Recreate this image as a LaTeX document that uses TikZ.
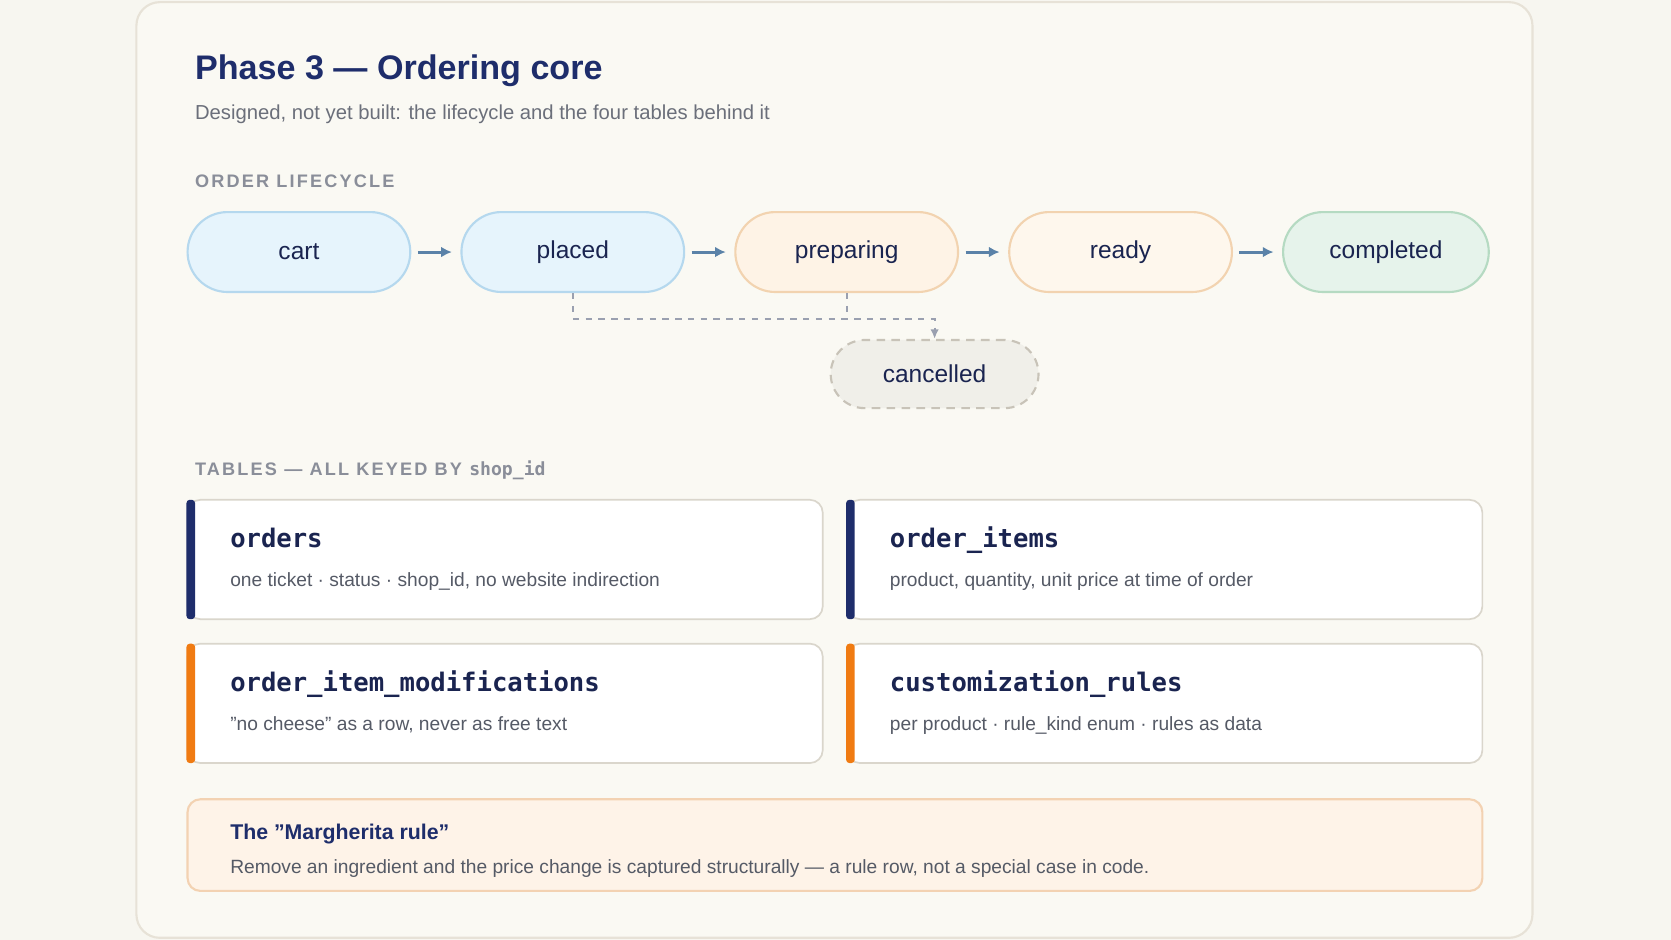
\documentclass[tikz,border=0pt]{standalone}
\usepackage{fontspec}
\setmainfont{Liberation Sans}
\setsansfont{Liberation Sans}
\setmonofont{DejaVu Sans Mono}
\usetikzlibrary{positioning,arrows.meta}

\definecolor{paper}{HTML}{F7F6F0}
\definecolor{card}{HTML}{FAF9F3}
\definecolor{cardline}{HTML}{E7E2D7}
\definecolor{navy}{HTML}{1E2D6B}
\definecolor{ink}{HTML}{1A2450}
\definecolor{muted}{HTML}{6B6F7A}
\definecolor{label}{HTML}{8A8E99}
\definecolor{bluefill}{HTML}{E6F4FC}
\definecolor{blueline}{HTML}{B5D8EE}
\definecolor{orfill}{HTML}{FEF3E6}
\definecolor{orline}{HTML}{F2D3B0}
\definecolor{grfill}{HTML}{E6F3EB}
\definecolor{grline}{HTML}{B5DAC2}
\definecolor{grayfill}{HTML}{F0EFE9}
\definecolor{grayline}{HTML}{C8C3B8}
\definecolor{arrowc}{HTML}{5A82A8}
\definecolor{dashc}{HTML}{9AA0B0}
\definecolor{tabline}{HTML}{DAD6CC}
\definecolor{orange}{HTML}{F07B12}
\definecolor{desc}{HTML}{555A66}
\definecolor{notefill}{HTML}{FEF3E8}
\definecolor{noteline}{HTML}{F3D2B2}

\begin{document}
\begin{tikzpicture}
    [
    x=0.5pt, y=-0.5pt,
    state/.style={draw, line width=1pt, rounded corners=18.75pt, minimum height=37.5pt,
      minimum width=104.5pt, text=ink, font=\fontsize{11.5pt}{13pt}\selectfont},
    coolstate/.style={fill=bluefill, draw=blueline},
    warmstate/.style={fill=orfill, draw=orline},
    flow/.style={-{Latex[length=5pt,width=5pt]}, line width=1.4pt, draw=arrowc,
      shorten <=3pt, shorten >=4pt},
    heading/.style={anchor=base west, text=label, font=\fontsize{8.5pt}{10pt}\selectfont\bfseries},
    tablebox/.style={draw=tabline, fill=white, line width=0.8pt, rounded corners=6pt},
    tname/.style={anchor=base west, text=ink, font=\fontsize{12pt}{14pt}\selectfont\ttfamily\bfseries},
    tdesc/.style={anchor=base west, text=desc, font=\fontsize{9pt}{11pt}\selectfont},
    ]
    \useasboundingbox (0,0) rectangle (1568,882);
    \fill [paper] (0,0) rectangle (1568,882);
    \draw [cardline, fill=card, line width=1pt, rounded corners=11pt] (128,2) rectangle (1438,880);

    \node (title) [anchor=base west, text=navy, font=\fontsize{16pt}{18pt}\selectfont\bfseries]
      at (176,75) {Phase 3 — Ordering core};
    \node (sub) [anchor=base west, text=muted, font=\fontsize{9.5pt}{11pt}\selectfont]
      at (176,112) {Designed, not yet built: the lifecycle and the four tables behind it};
    \node (h1) [heading] at (176,176) {\addfontfeature{LetterSpace=12}ORDER LIFECYCLE};

    % lifecycle
    \node (cart) [state, coolstate] at (280.5,236.5) {cart};
    \node (placed) [state, coolstate, right=23pt of cart] {placed};
    \node (preparing) [state, warmstate, right=23pt of placed] {preparing};
    \node (ready) [state, warmstate, fill=orfill!70!white, right=23pt of preparing] {ready};
    \node (completed) [state, fill=grfill, draw=grline, minimum width=96.5pt, right=23pt of ready] {completed};
    \draw [flow] (cart) to (placed);
    \draw [flow] (placed) to (preparing);
    \draw [flow] (preparing) to (ready);
    \draw [flow] (ready) to (completed);

    \node (cancelled) [state, fill=grayfill, draw=grayline, dash pattern=on 4pt off 3pt,
      rounded corners=16pt, minimum height=32pt, minimum width=97.5pt] at (877,351) {cancelled};
    \coordinate (bend) at (877,299);
    \draw [dashc, line width=1pt, dashed, -{Latex[length=4.5pt,width=4pt]}]
      (placed.south) |- (bend) -- (cancelled.north);
    \draw [dashc, line width=1pt, dashed] (preparing.south) -- (preparing.south |- bend);

    % tables
    \node (h2) [heading] at (176,446) {\addfontfeature{LetterSpace=12}TABLES — ALL KEYED BY {\ttfamily shop\_id}};

    \draw [tablebox] (176,469) rectangle (772,581);
    \draw [tablebox] (795,469) rectangle (1391,581);
    \draw [tablebox] (176,604) rectangle (772,716);
    \draw [tablebox] (795,604) rectangle (1391,716);
    \fill [navy, rounded corners=1.5pt] (175,469) rectangle (183,581);
    \fill [navy, rounded corners=1.5pt] (794,469) rectangle (802,581);
    \fill [orange, rounded corners=1.5pt] (175,604) rectangle (183,716);
    \fill [orange, rounded corners=1.5pt] (794,604) rectangle (802,716);

    \node (orders) [tname] at (209,514) {orders};
    \node (ordersd) [tdesc] at (209,550) {one ticket · status · shop\_id, no website indirection};
    \node (items) [tname] at (828,514) {order\_items};
    \node (itemsd) [tdesc] at (828,550) {product, quantity, unit price at time of order};
    \node (mods) [tname] at (209,649) {order\_item\_modifications};
    \node (modsd) [tdesc] at (209,685) {"no cheese" as a row, never as free text};
    \node (rules) [tname] at (828,649) {customization\_rules};
    \node (rulesd) [tdesc] at (828,685) {per product · rule\_kind enum · rules as data};

    % note
    \draw [fill=notefill, draw=noteline, line width=1pt, rounded corners=6pt] (176,750) rectangle (1391,836);
    \node (noteh) [anchor=base west, text=navy, font=\fontsize{10pt}{12pt}\selectfont\bfseries]
      at (209,788) {The "Margherita rule"};
    \node (notet) [tdesc] at (209,820) {Remove an ingredient and the price change is captured structurally — a rule row, not a special case in code.};
  \end{tikzpicture}
\end{document}
